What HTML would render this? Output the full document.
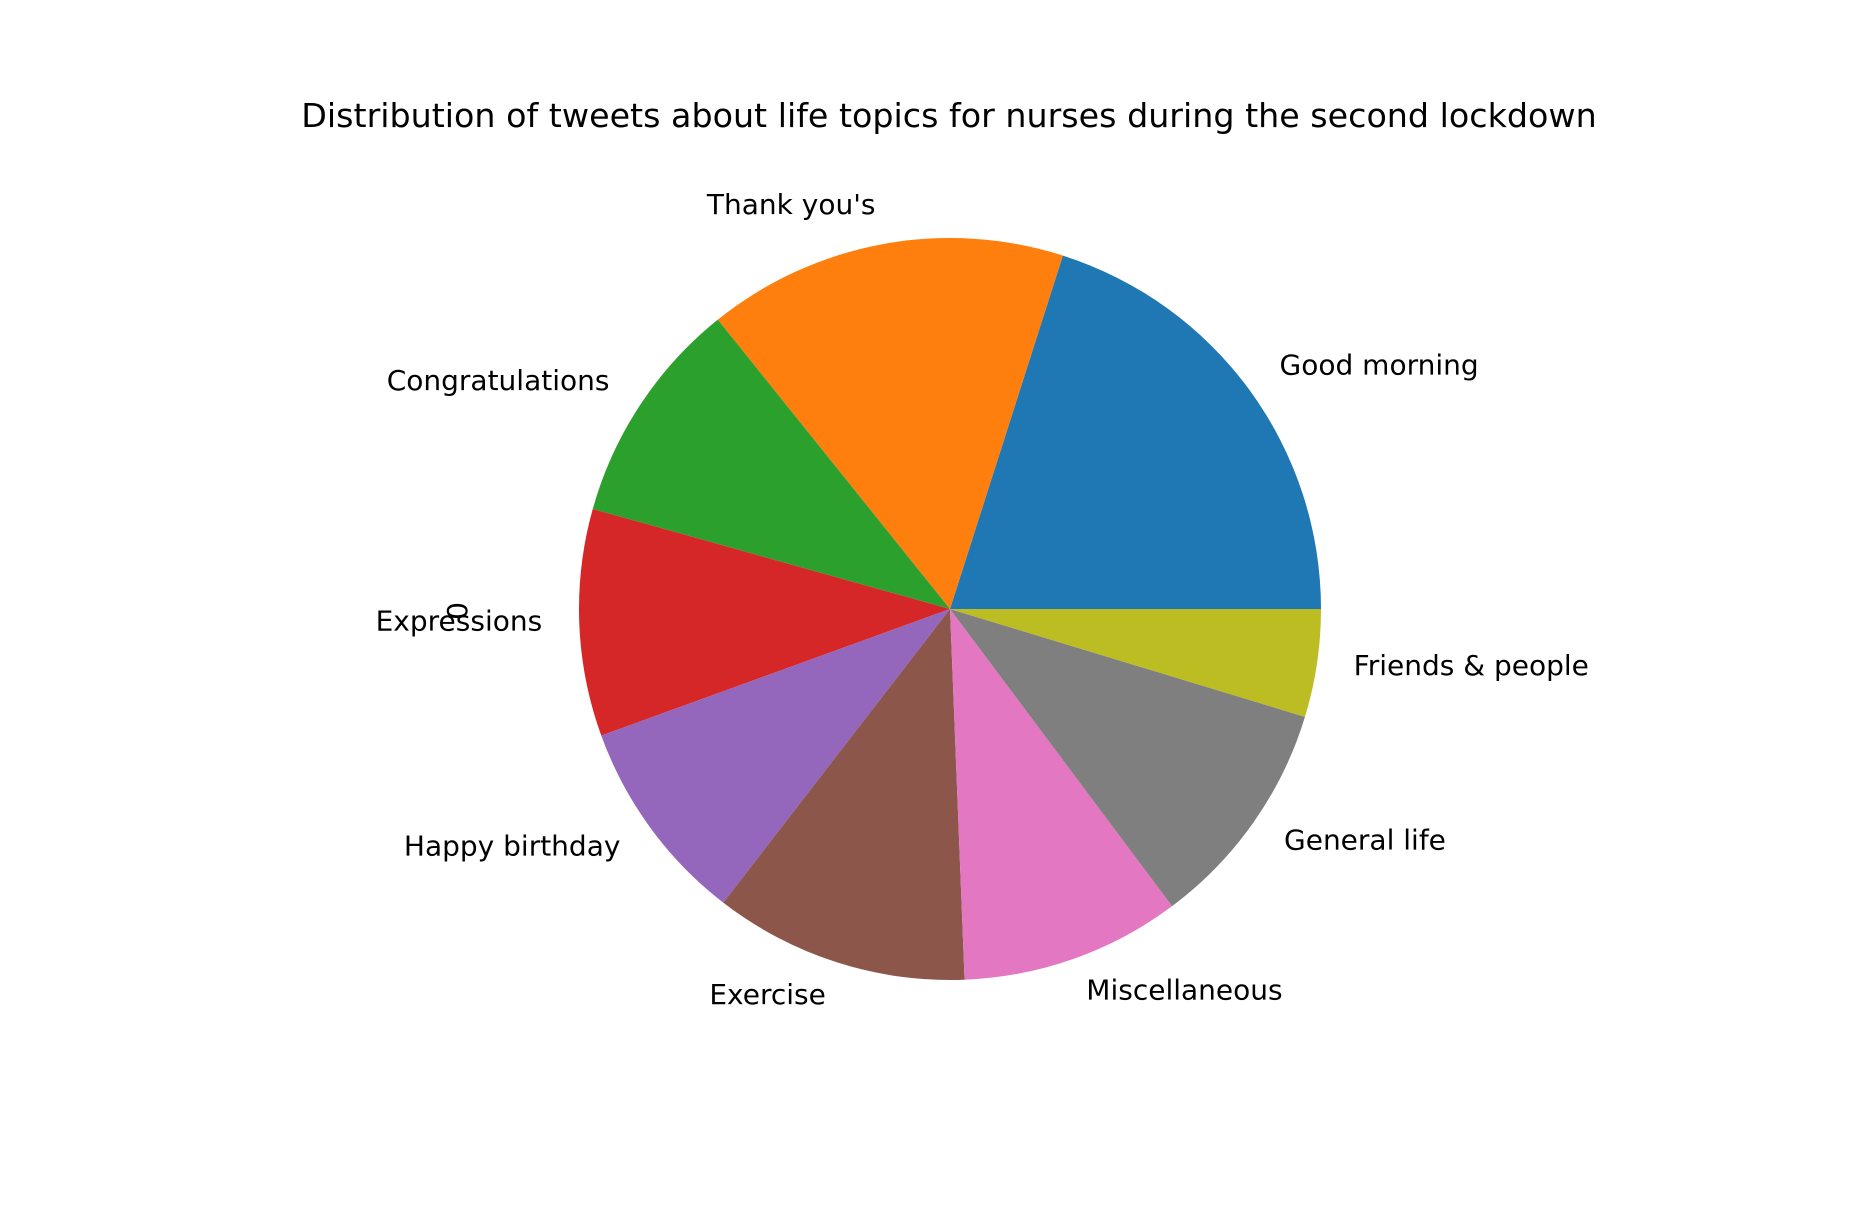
<!DOCTYPE html>
<html><head><meta charset="utf-8"><style>
html,body{margin:0;padding:0;background:#fff;}
svg{display:block;font-family:"DejaVu Sans","Liberation Sans",sans-serif;}
</style></head><body>
<svg id="chart" width="1852" height="1206" viewBox="0 0 1852 1206" xmlns="http://www.w3.org/2000/svg">
<rect width="1852" height="1206" fill="#fff"/>
<text x="949" y="127" font-size="33.3" text-anchor="middle" fill="#000">Distribution of tweets about life topics for nurses during the second lockdown</text>
<text x="0" y="0" font-size="28" text-anchor="middle" fill="#000" transform="translate(467,611) rotate(-90)">0</text>
<g id="slices"></g>
<g id="labels"></g>
</svg>
<script>
const categories = ["Good morning","Thank you's","Congratulations","Expressions","Happy birthday","Exercise","Miscellaneous","General life","Friends & people"];
const values = [20.1,15.7,9.9,9.9,9.0,11.1,9.6,10.1,4.7];
const colors = ["#1f77b4","#ff7f0e","#2ca02c","#d62728","#9467bd","#8c564b","#e377c2","#7f7f7f","#bcbd22"];
const cx = 950, cy = 609, r = 371;
const ns = "http://www.w3.org/2000/svg";
const total = values.reduce((a,b)=>a+b,0);
const gS = document.getElementById('slices'), gL = document.getElementById('labels');
let a0 = 0;
values.forEach((v,i)=>{
  const a1 = a0 + v/total*2*Math.PI;
  const x0 = cx + r*Math.cos(a0), y0 = cy - r*Math.sin(a0);
  const x1 = cx + r*Math.cos(a1), y1 = cy - r*Math.sin(a1);
  const large = (a1-a0) > Math.PI ? 1 : 0;
  const p = document.createElementNS(ns,'path');
  p.setAttribute('d',`M${cx},${cy} L${x0},${y0} A${r},${r} 0 ${large} 0 ${x1},${y1} Z`);
  p.setAttribute('fill',colors[i]);
  
  
  gS.appendChild(p);
  const am = (a0+a1)/2;
  const lx = cx + 1.1*r*Math.cos(am), ly = cy - 1.1*r*Math.sin(am);
  const t = document.createElementNS(ns,'text');
  t.setAttribute('x',lx);
  t.setAttribute('y',ly+6);
  t.setAttribute('font-size','28');
  t.setAttribute('text-anchor', Math.cos(am) >= 0 ? 'start' : 'end');
  t.textContent = categories[i];
  
  
  gL.appendChild(t);
  a0 = a1;
});
</script>
</body></html>
